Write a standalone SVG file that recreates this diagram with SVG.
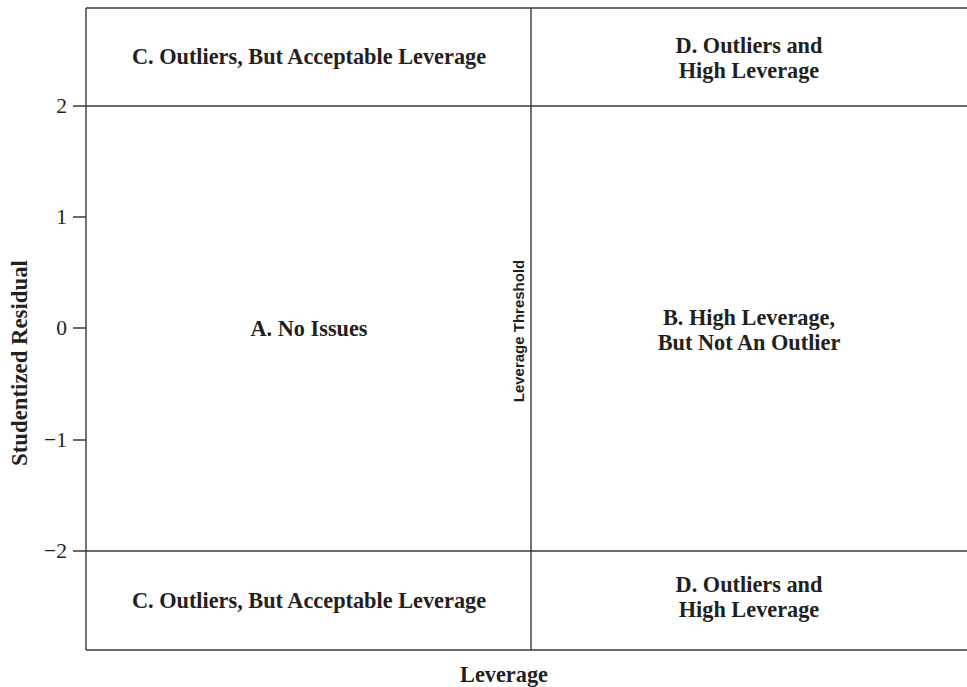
<svg xmlns="http://www.w3.org/2000/svg" width="967" height="687" viewBox="0 0 967 687">
<style>
.ln{stroke:#3a3a3a;stroke-width:1.4;fill:none}
.q{font-family:"Liberation Serif","Times New Roman",serif;font-weight:bold;font-size:22.3px;fill:#231f20;text-anchor:middle}
.tk{font-family:"Liberation Serif","Times New Roman",serif;font-size:21.5px;fill:#231f20;text-anchor:end}
.th{font-family:"Liberation Sans",Arial,sans-serif;font-weight:bold;font-size:15px;fill:#231f20;text-anchor:middle}
</style>
<rect width="967" height="687" fill="#fff"/>
<g id="connectors">
<path class="ln" d="M86,8 H967 M86,650 H967 M86,8 V650 M531,8 V650 M73,106 H967 M73,551 H967 M73,217 H86 M73,328 H86 M73,440 H86"/>
</g>
<g id="axes">
<text class="tk" x="67" y="113">2</text>
<text class="tk" x="67" y="224">1</text>
<text class="tk" x="67" y="335">0</text>
<text class="tk" x="67" y="447">−1</text>
<text class="tk" x="67" y="558">−2</text>
<text class="q" transform="translate(27,363) rotate(-90)" style="font-size:22.8px">Studentized Residual</text>
<text class="q" x="504" y="682">Leverage</text>
<text class="th" transform="translate(524,331) rotate(-90)">Leverage Threshold</text>
</g>
<g id="topC"><text class="q" x="309" y="64">C. Outliers, But Acceptable Leverage</text></g>
<g id="topD"><text class="q" x="749" y="53">D. Outliers and</text><text class="q" x="749" y="78">High Leverage</text></g>
<g id="A"><text class="q" x="309" y="336">A. No Issues</text></g>
<g id="B"><text class="q" x="749" y="325">B. High Leverage,</text><text class="q" x="749" y="350">But Not An Outlier</text></g>
<g id="botC"><text class="q" x="309" y="608">C. Outliers, But Acceptable Leverage</text></g>
<g id="botD"><text class="q" x="749" y="592">D. Outliers and</text><text class="q" x="749" y="617">High Leverage</text></g>
</svg>
